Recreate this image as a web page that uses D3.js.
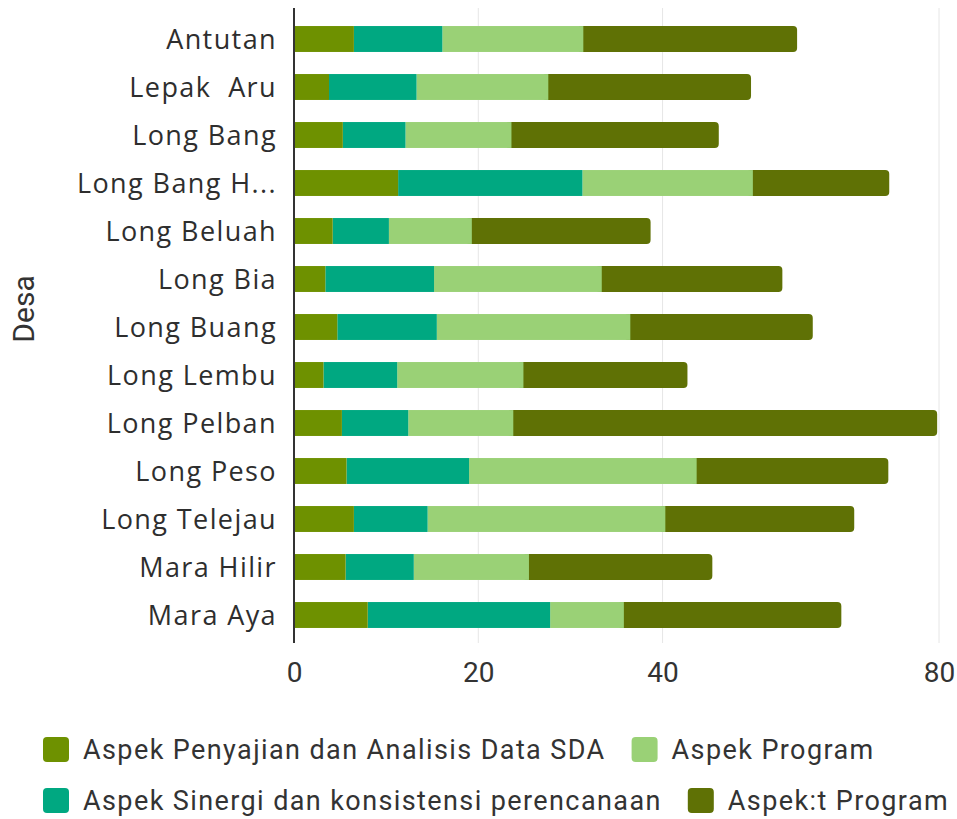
<!DOCTYPE html>
<html>
<head>
<meta charset="utf-8">
<script src="https://cdn.jsdelivr.net/npm/d3@7"></script>
<style>
  body { margin: 0; background: #fff; }
  svg { display: block; }
</style>
</head>
<body>
<svg id="chart"></svg>
<script>
// villages, top to bottom
const desa = ["Antutan", "Lepak  Aru", "Long Bang", "Long Bang H...", "Long Beluah", "Long Bia",
  "Long Buang", "Long Lembu", "Long Pelban", "Long Peso", "Long Telejau", "Mara Hilir", "Mara Aya"];

const seriesNames = ["Aspek Penyajian dan Analisis Data SDA", "Aspek Sinergi dan konsistensi perencanaan",
  "Aspek Program", "Aspek:t Program"];

const penyajian = [6.5, 3.8, 5.3, 11.3, 4.2, 3.4, 4.7, 3.2, 5.2, 5.7, 6.5, 5.6, 8.0];
const sinergi   = [9.6, 9.5, 6.8, 20.0, 6.1, 11.8, 10.8, 8.0, 7.2, 13.3, 8.0, 7.4, 19.8];
const program   = [15.3, 14.3, 11.5, 18.5, 9.0, 18.2, 21.0, 13.7, 11.4, 24.7, 25.8, 12.5, 8.0];
const programT  = [23.2, 22.0, 22.5, 14.8, 19.4, 19.6, 19.8, 17.8, 46.0, 20.8, 20.5, 19.9, 23.6];

// the picture labels its last tick "80" although it sits near 70
const tickValues = [0, 20, 40, 70];
const tickLabels = ["0", "20", "40", "80"];

const colors = ["#6e9100", "#00a881", "#9ad176", "#5f7105"];

const W = 957, H = 819;
const svg = d3.select("#chart").attr("width", W).attr("height", H);

const rows = desa.map((d, i) => ({ desa: d, v: [penyajian[i], sinergi[i], program[i], programT[i]] }));

const x = d3.scaleLinear().domain([0, 70]).range([294, 939]);
const y = d3.scaleBand().domain(desa).range([15, 639]).paddingInner(0.46).paddingOuter(0.23);

// grid
svg.append("g")
  .selectAll("line")
  .data(tickValues.slice(1))
  .join("line")
  .attr("x1", d => x(d)).attr("x2", d => x(d))
  .attr("y1", 8).attr("y2", 643)
  .attr("stroke", "#e6e6e6")
  .attr("stroke-width", 1);

// bars, drawn from last segment backward so the rounded end only shows on the right
const bars = svg.append("g");
rows.forEach(r => {
  let starts = [];
  let acc = 0;
  r.v.forEach(v => { starts.push(acc); acc += v; });
  for (let k = 3; k >= 0; k--) {
    const x0 = x(starts[k]), x1 = x(starts[k] + r.v[k]);
    bars.append("rect")
      .attr("x", k === 3 ? x0 - 6 : x0)
      .attr("y", y(r.desa))
      .attr("width", k === 3 ? x1 - x0 + 6 : x1 - x0)
      .attr("height", y.bandwidth())
      .attr("rx", k === 3 ? 4 : 0)
      .attr("fill", colors[k]);
  }
});

// axis line at zero
svg.append("line")
  .attr("x1", x(0)).attr("x2", x(0))
  .attr("y1", 8).attr("y2", 643)
  .attr("stroke", "#333")
  .attr("stroke-width", 2);

// x axis
const xAxis = d3.axisBottom(x)
  .tickValues(tickValues)
  .tickFormat((d, i) => tickLabels[i])
  .tickSize(0)
  .tickPadding(0);

const gx = svg.append("g").attr("transform", "translate(0,662)").call(xAxis);
gx.select(".domain").remove();
gx.selectAll("text")
  .attr("dy", "0.71em")
  .style("font-family", "Roboto, sans-serif")
  .style("font-size", "28px")
  .attr("fill", "#333");

// y axis labels
const yAxis = d3.axisLeft(y).tickSize(0).tickPadding(0);
const gy = svg.append("g").attr("transform", "translate(277,1)").call(yAxis);
gy.select(".domain").remove();
gy.selectAll("text")
  .style("font-family", "'Open Sans', sans-serif")
  .style("font-size", "27px")
  .style("letter-spacing", "1.4px")
  .style("white-space", "pre")
  .attr("fill", "#2e2e2e");

svg.append("text")
  .attr("transform", "translate(34,309) rotate(-90)")
  .attr("text-anchor", "middle")
  .style("font-family", "Roboto, sans-serif")
  .style("font-size", "30px")
  .attr("fill", "#333")
  .text("Desa");

// legend, two rows flowing left to right
const legendRows = [[0, 2], [1, 3]];
legendRows.forEach((row, ri) => {
  let lx = 43;
  const ly = 737 + ri * 51;
  row.forEach(k => {
    svg.append("rect")
      .attr("x", lx).attr("y", ly)
      .attr("width", 26).attr("height", 25)
      .attr("rx", 4)
      .attr("fill", colors[k]);
    const t = svg.append("text")
      .attr("x", lx + 40).attr("y", ly + 22)
      .style("font-family", "Roboto, sans-serif")
      .style("font-size", "27px")
      .style("letter-spacing", "1.4px")
      .attr("fill", "#333")
      .text(seriesNames[k]);
    lx = lx + 40 + t.node().getComputedTextLength() + 26;
  });
});
</script>
</body>
</html>
